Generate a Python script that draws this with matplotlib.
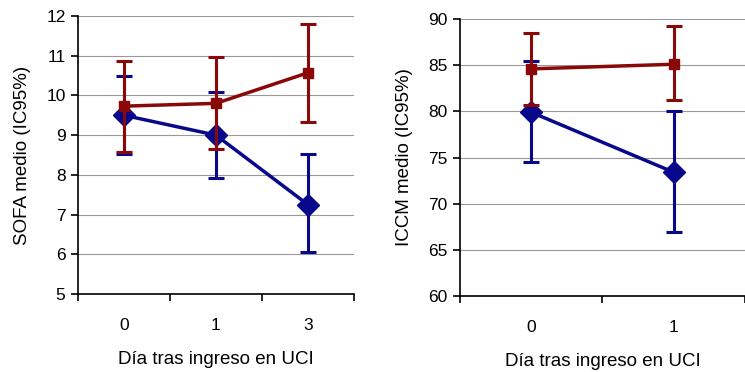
import numpy as np
import matplotlib
matplotlib.use("Agg")
import matplotlib.pyplot as plt

plt.rcParams['font.family'] = ['Liberation Sans', 'DejaVu Sans']

########### data ###########
sofa_days = ['0', '1', '3']
sofa_blue = [9.5, 9.0, 7.25]
sofa_blue_lo = [8.52, 7.93, 6.05]
sofa_blue_hi = [10.48, 10.08, 8.53]
sofa_red = [9.73, 9.8, 10.57]
sofa_red_lo = [8.57, 8.65, 9.33]
sofa_red_hi = [10.87, 10.98, 11.8]

iccm_days = ['0', '1']
iccm_blue = [79.9, 73.4]
iccm_blue_lo = [74.5, 66.9]
iccm_blue_hi = [85.4, 80.0]
iccm_red = [84.6, 85.1]
iccm_red_lo = [80.7, 81.2]
iccm_red_hi = [88.5, 89.2]
############################

blue = '#08088a'
red = '#8a0808'


def draw(ax, days, b, b_lo, b_hi, r, r_lo, r_hi, ylim, ystep, ylabel):
    x = np.arange(len(days))
    b, r = np.array(b), np.array(r)
    ax.errorbar(x, b, yerr=[b - np.array(b_lo), np.array(b_hi) - b], color=blue,
                lw=2.5, elinewidth=2.2, capsize=6, capthick=2.2,
                marker='D', ms=11, zorder=3)
    ax.errorbar(x, r, yerr=[r - np.array(r_lo), np.array(r_hi) - r], color=red,
                lw=2.5, elinewidth=2.2, capsize=6, capthick=2.2,
                marker='s', ms=7, zorder=4)
    ax.set_xlim(-0.5, len(days) - 0.5)
    ax.set_ylim(*ylim)
    ax.set_yticks(np.arange(ylim[0], ylim[1] + ystep / 2, ystep))
    ax.set_xticks(x)
    ax.set_xticklabels(days)
    ax.set_xticks(np.arange(-0.5, len(days), 1.0), minor=True)
    ax.tick_params(axis='x', which='major', length=0, pad=17, labelsize=12.5)
    ax.tick_params(axis='x', which='minor', length=5, width=1.2)
    ax.tick_params(axis='y', length=5, width=1.2, labelsize=12.5, pad=4)
    ax.grid(axis='y', color='#999999', lw=0.8)
    ax.set_axisbelow(True)
    for s in ['top', 'right']:
        ax.spines[s].set_visible(False)
    for s in ['left', 'bottom']:
        ax.spines[s].set_linewidth(1.2)
    ax.set_xlabel('Día tras ingreso en UCI', fontsize=13.5, labelpad=13)
    ax.set_ylabel(ylabel, fontsize=13.5, labelpad=11)


fig = plt.figure(figsize=(7.45, 3.72), dpi=100)
ax1 = fig.add_axes([0.1047, 0.2097, 0.3703, 0.7473])
ax2 = fig.add_axes([0.6174, 0.2043, 0.3826, 0.7446])

draw(ax1, sofa_days, sofa_blue, sofa_blue_lo, sofa_blue_hi,
     sofa_red, sofa_red_lo, sofa_red_hi, (5, 12), 1, 'SOFA medio (IC95%)')
draw(ax2, iccm_days, iccm_blue, iccm_blue_lo, iccm_blue_hi,
     iccm_red, iccm_red_lo, iccm_red_hi, (60, 90), 5, 'ICCM medio (IC95%)')

fig.savefig('out.png', dpi=100)
